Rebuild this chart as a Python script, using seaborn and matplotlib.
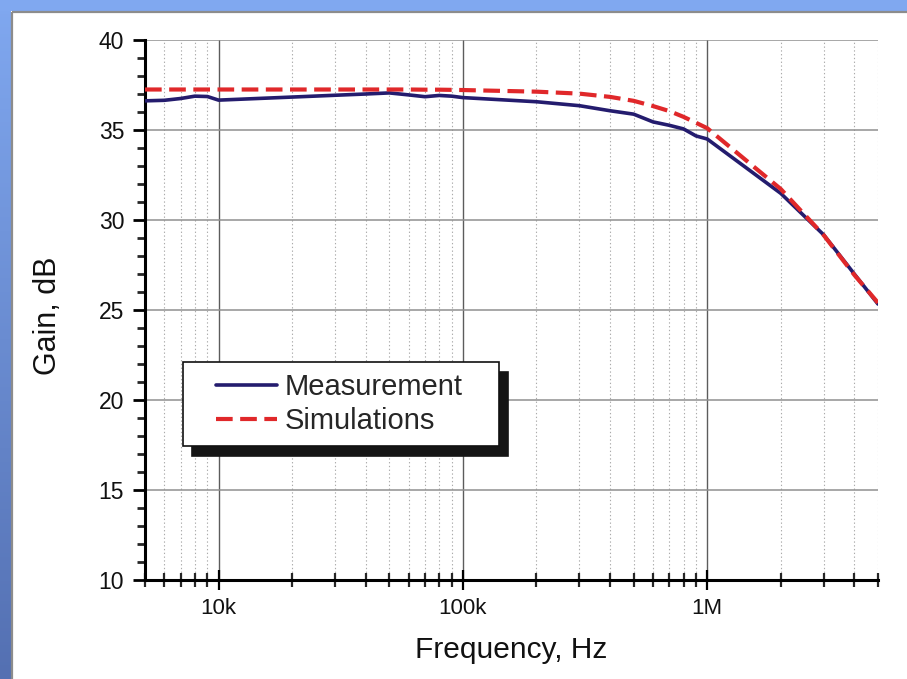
import numpy as np
import pandas as pd
import matplotlib
matplotlib.use("Agg")
import matplotlib.pyplot as plt
from matplotlib.ticker import FixedLocator, FixedFormatter, LogLocator, MultipleLocator, NullFormatter
from matplotlib.legend_handler import HandlerLine2D
import seaborn as sns

# Frequency points (Hz)
freq = [5e3, 6e3, 7e3, 8e3, 9e3, 1e4, 2e4, 3e4, 4e4, 5e4, 6e4, 7e4, 8e4, 9e4,
        1e5, 2e5, 3e5, 4e5, 5e5, 6e5, 7e5, 8e5, 9e5, 1e6, 2e6, 3e6, 4e6, 5e6]

# Measured gain (dB)
gain_meas = [36.62, 36.65, 36.75, 36.88, 36.86, 36.66, 36.83, 36.93, 37.0, 37.06,
             36.95, 36.85, 36.92, 36.88, 36.8, 36.57, 36.35, 36.07, 35.88, 35.45,
             35.26, 35.06, 34.67, 34.5, 31.48, 29.17, 27.0, 25.33]

# Simulated gain (dB)
gain_sim = [37.25, 37.25, 37.25, 37.25, 37.25, 37.25, 37.25, 37.25, 37.25, 37.25,
            37.25, 37.24, 37.24, 37.23, 37.22, 37.13, 37.02, 36.84, 36.62, 36.33,
            36.05, 35.73, 35.4, 35.1, 31.72, 29.15, 26.95, 25.4]

series_names = ["Measurement", "Simulations"]
x_tick_values = [1e4, 1e5, 1e6]
x_tick_labels = ["10k", "100k", "1M"]
y_tick_values = [10, 15, 20, 25, 30, 35, 40]

df = pd.DataFrame({
    "freq": freq * 2,
    "gain": gain_meas + gain_sim,
    "series": [series_names[0]] * len(freq) + [series_names[1]] * len(freq),
})

sns.set_theme(style="ticks")
plt.rcParams["font.family"] = ["Liberation Sans", "DejaVu Sans"]

W, H = 907, 679
fig = plt.figure(figsize=(W / 100, H / 100), dpi=100)
fig.patch.set_facecolor("white")

# Window-style frame: light blue bands on top and left, grey inner border
bg = fig.add_axes([0, 0, 1, 1], zorder=-10)
bg.set_xlim(0, 1)
bg.set_ylim(0, 1)
bg.axis("off")
top = np.array([128, 168, 240]) / 255
bottom = np.array([84, 112, 178]) / 255
t = np.linspace(0, 1, 200)[:, None]
grad = (top[None, :] * (1 - t) + bottom[None, :] * t)[:, None, :]
bg.imshow(grad, extent=[0, 11 / W, 0, 1], aspect="auto", origin="upper", zorder=1)
bg.add_patch(plt.Rectangle((0, 1 - 11 / H), 1, 11 / H, color=top, lw=0, zorder=1))
bg.plot([12 / W, 12 / W], [0, 1 - 12 / H], color="#8c8c8c", lw=1.6, zorder=2,
        solid_capstyle="butt")
bg.plot([12 / W, 1], [1 - 12 / H, 1 - 12 / H], color="#8c8c8c", lw=1.6, zorder=2,
        solid_capstyle="butt")

ax = fig.add_axes([145 / W, 1 - 580 / H, (878 - 145) / W, (580 - 40) / H])
ax.set_facecolor("none")

navy = "#241c6e"
red = "#e0282a"
sns.lineplot(data=df[df.series == series_names[0]], x="freq", y="gain", ax=ax,
             color=navy, lw=2.6, label=series_names[0], zorder=4)
sns.lineplot(data=df[df.series == series_names[1]], x="freq", y="gain", ax=ax,
             color=red, lw=3.0, linestyle=(0, (4.0, 1.8)), label=series_names[1],
             zorder=5)

ax.set_xscale("log")
ax.set_xlim(5e3, 5e6)
ax.set_ylim(10, 40)

ax.xaxis.set_major_locator(FixedLocator(x_tick_values))
ax.xaxis.set_major_formatter(FixedFormatter(x_tick_labels))
ax.xaxis.set_minor_locator(LogLocator(base=10, subs=np.arange(2, 10)))
ax.xaxis.set_minor_formatter(NullFormatter())
ax.yaxis.set_major_locator(FixedLocator(y_tick_values))
ax.yaxis.set_minor_locator(MultipleLocator(1))

# Grid
ax.grid(axis="y", which="major", color="#8f8f8f", lw=1.1, zorder=1)
ax.grid(axis="x", which="major", color="#5c5c5c", lw=1.0, zorder=1)
ax.grid(axis="x", which="minor", color="#ababab", lw=0.8, linestyle=(0, (1.2, 2.2)),
        zorder=1)
ax.set_axisbelow(True)

for s in ["top", "right"]:
    ax.spines[s].set_visible(False)
for s in ["left", "bottom"]:
    ax.spines[s].set_linewidth(2.2)
    ax.spines[s].set_color("black")

ax.tick_params(axis="y", which="major", direction="out", length=9, width=2.0,
               labelsize=16.5, pad=6, colors="black")
ax.tick_params(axis="y", which="minor", direction="out", length=5.5, width=2.0)
ax.tick_params(axis="x", which="major", direction="inout", length=14, width=1.6,
               labelsize=16, pad=6, colors="black")
ax.tick_params(axis="x", which="minor", direction="inout", length=10, width=1.6)
for lab in ax.get_xticklabels() + ax.get_yticklabels():
    lab.set_color("#111111")

ax.set_xlabel("Frequency, Hz", fontsize=21.5, labelpad=12, color="#111111")
ax.set_ylabel("Gain, dB", fontsize=22, color="#111111")
ax.yaxis.set_label_coords(-0.112, 0.49)

# Legend with a solid drop shadow
handles, labels = ax.get_legend_handles_labels()
leg = ax.legend(handles, labels, loc="upper left", mode="expand",
                bbox_to_anchor=(38 / 733, 218 / 540, 316 / 733, 0.0),
                borderaxespad=0, fontsize=21, frameon=True, fancybox=False,
                handlelength=2.85, handletextpad=0.27, labelspacing=0.22,
                borderpad=0.37,
                handler_map={h: HandlerLine2D(xpad=0.75) for h in handles},
                shadow={"ox": 6.5, "oy": -7, "facecolor": "#151515",
                        "edgecolor": "#151515", "alpha": 1.0})
leg.get_frame().set_edgecolor("#111111")
leg.get_frame().set_linewidth(1.2)
leg.get_frame().set_facecolor("white")
leg.get_frame().set_alpha(1.0)
leg.set_zorder(10)

fig.savefig("out.png", dpi=100, facecolor=fig.get_facecolor())
